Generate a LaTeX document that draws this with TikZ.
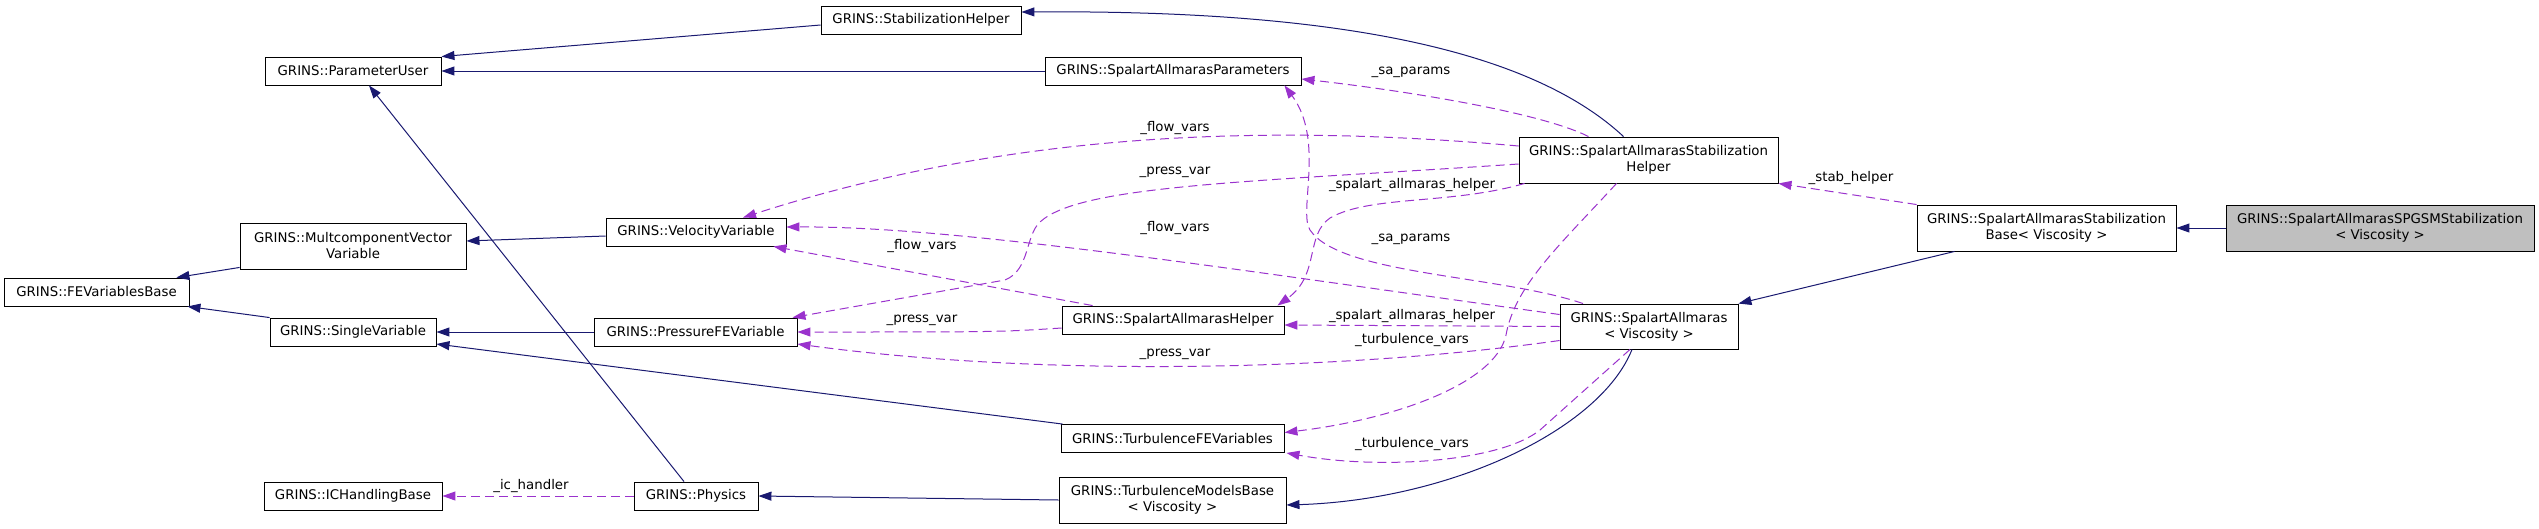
\documentclass[tikz,border=0pt]{standalone}
\usepackage{fontspec}
\setmainfont{DejaVu Sans}
\usepackage{xcolor}
\usepackage{tikz}
\usetikzlibrary{arrows.meta}
\definecolor{edgeblue}{HTML}{191970}
\definecolor{edgeviolet}{HTML}{9A32CD}
\definecolor{focusgray}{HTML}{BFBFBF}

\begin{document}
\begin{tikzpicture}[x=1pt,y=-1pt,
  font=\fontsize{13.33}{16}\selectfont,
  cls/.style={draw=black,fill=white,line width=0.9pt,inner sep=0pt,minimum height=28pt},
  cls2/.style={cls,minimum height=46pt,align=center},
  inherit/.style={draw=edgeblue,line width=1pt,-{Triangle[length=13pt,width=9pt]}},
  uses/.style={draw=edgeviolet,line width=1pt,dash pattern=on 9pt off 5pt,-{Triangle[length=13pt,width=9pt]}},
  lbl/.style={inner sep=0pt}]
\useasboundingbox (0,0) rectangle (2539,528);

% classes
\node[cls,minimum width=200pt] (SH) at (921,20) {GRINS::StabilizationHelper};
\node[cls,minimum width=176pt] (PU) at (353,71) {GRINS::ParameterUser};
\node[cls,minimum width=256pt] (SAP) at (1173,71) {GRINS::SpalartAllmarasParameters};
\node[cls2,minimum width=259pt] (SASH) at (1648.5,160) {GRINS::SpalartAllmarasStabilization\\Helper};
\node[cls2,minimum width=226pt] (MCV) at (353,246) {GRINS::MultcomponentVector\\Variable};
\node[cls,minimum width=180pt] (VV) at (696,232) {GRINS::VelocityVariable};
\node[cls2,minimum width=259pt] (SASB) at (2046.5,228) {GRINS::SpalartAllmarasStabilization\\Base< Viscosity >};
\node[cls2,minimum width=308pt,fill=focusgray] (SPGSM) at (2380,228) {GRINS::SpalartAllmarasSPGSMStabilization\\< Viscosity >};
\node[cls,minimum width=185pt] (FEVB) at (96.5,292) {GRINS::FEVariablesBase};
\node[cls,minimum width=166pt] (SV) at (353,332) {GRINS::SingleVariable};
\node[cls,minimum width=203pt] (PFV) at (695.5,332) {GRINS::PressureFEVariable};
\node[cls,minimum width=222pt] (SAH) at (1173,320) {GRINS::SpalartAllmarasHelper};
\node[cls2,minimum width=178pt,minimum height=45pt] (SA) at (1649,326.5) {GRINS::SpalartAllmaras\\< Viscosity >};
\node[cls,minimum width=223pt] (TFEV) at (1172.5,438.5) {GRINS::TurbulenceFEVariables};
\node[cls,minimum width=178pt] (ICH) at (353,496) {GRINS::ICHandlingBase};
\node[cls,minimum width=124pt] (PH) at (696,496) {GRINS::Physics};
\node[cls2,minimum width=227pt] (TMB) at (1172.5,500) {GRINS::TurbulenceModelsBase\\< Viscosity >};

% inheritance
\draw[inherit] ([yshift=-5pt]SH.west) -- (PU.north east);
\draw[inherit] (SAP.west) -- (PU.east);
\draw[inherit] ([xshift=-12pt]PH.north) -- ([xshift=16pt]PU.south);
\draw[inherit] ([yshift=-4pt]VV.west) -- ([yshift=5pt]MCV.east);
\draw[inherit] ([yshift=2pt]MCV.south west) -- ([xshift=-13pt]FEVB.north east);
\draw[inherit] (SV.north west) -- ([xshift=-2pt]FEVB.south east);
\draw[inherit] (PFV.west) -- (SV.east);
\draw[inherit] ([xshift=2pt]TFEV.north west) -- ([yshift=-12pt]SV.east);
\draw[inherit] (TMB.west) -- (PH.east);
\draw[inherit] ([xshift=-17pt]SA.south) .. controls (1600,430) and (1450,500) .. ([yshift=-5pt]TMB.east);
\draw[inherit] ([xshift=-25pt]SASH.north) .. controls (1520,40) and (1300,10) .. ([yshift=8pt]SH.east);
\draw[inherit] ([xshift=38pt]SASB.south west) -- (SA.north east);
\draw[inherit] (SPGSM.west) -- (SASB.east);

% members
\draw[uses] (SASB.north west) -- (SASH.south east)
  node[lbl] at (1851,178) {\_stab\_helper};
\draw[uses] ([xshift=-60pt]SASH.north) .. controls (1540,112) and (1400,90) .. ([yshift=-8pt]SAP.east)
  node[lbl] at (1411,72) {\_sa\_params};
\draw[uses] ([yshift=14pt]SASH.west) .. controls (1250,122) and (1000,135) .. ([xshift=47pt]VV.north)
  node[lbl] at (1175,128) {\_flow\_vars};
\draw[uses] ([yshift=-4pt]SASH.west) .. controls (1250,182) and (1080,185) .. (1040,222)
  .. controls (1025,236) and (1030,270) .. (1005,280) -- ([xshift=-5pt]PFV.north east)
  node[lbl] at (1175,172) {\_press\_var};
\draw[uses] ([xshift=6pt]SASH.south west) .. controls (1450,205) and (1370,195) .. (1330,218)
  .. controls (1305,235) and (1320,275) .. ([xshift=-7pt]SAH.north east)
  node[lbl] at (1412,185) {\_spalart\_allmaras\_helper};
\draw[uses] ([xshift=-32pt]SASH.south) .. controls (1560,245) and (1515,285) .. (1506,335)
  .. controls (1495,385) and (1390,420) .. ([yshift=6pt]TFEV.east)
  node[lbl] at (1412,340) {\_turbulence\_vars};
\draw[uses] ([xshift=-66pt]SA.north) .. controls (1500,275) and (1340,275) .. (1310,230)
  .. controls (1298,212) and (1325,140) .. ([xshift=-17pt]SAP.south east)
  node[lbl] at (1411,239) {\_sa\_params};
\draw[uses] ([yshift=12pt]SA.west) .. controls (1250,272) and (960,226) .. ([yshift=5pt]VV.east)
  node[lbl] at (1175,228) {\_flow\_vars};
\draw[uses] (SA.west) -- ([yshift=-5pt]SAH.east)
  node[lbl] at (1412,316) {\_spalart\_allmaras\_helper};
\draw[uses] ([yshift=-14pt]SA.west) .. controls (1350,370) and (1050,378) .. ([yshift=-12pt]PFV.east)
  node[lbl] at (1175,354) {\_press\_var};
\draw[uses] ([xshift=-19pt]SA.south) -- (1540,430) .. controls (1500,462) and (1380,470) .. ([xshift=2pt]TFEV.south east)
  node[lbl] at (1412,444) {\_turbulence\_vars};
\draw[uses] ([xshift=31pt]SAH.north west) -- ([xshift=-13pt]VV.south east)
  node[lbl] at (922,246) {\_flow\_vars};
\draw[uses] ([yshift=-8pt]SAH.west) .. controls (1000,332) .. (PFV.east)
  node[lbl] at (922,320) {\_press\_var};
\draw[uses] (PH.west) -- (ICH.east)
  node[lbl] at (531,486) {\_ic\_handler};
\end{tikzpicture}
\end{document}
